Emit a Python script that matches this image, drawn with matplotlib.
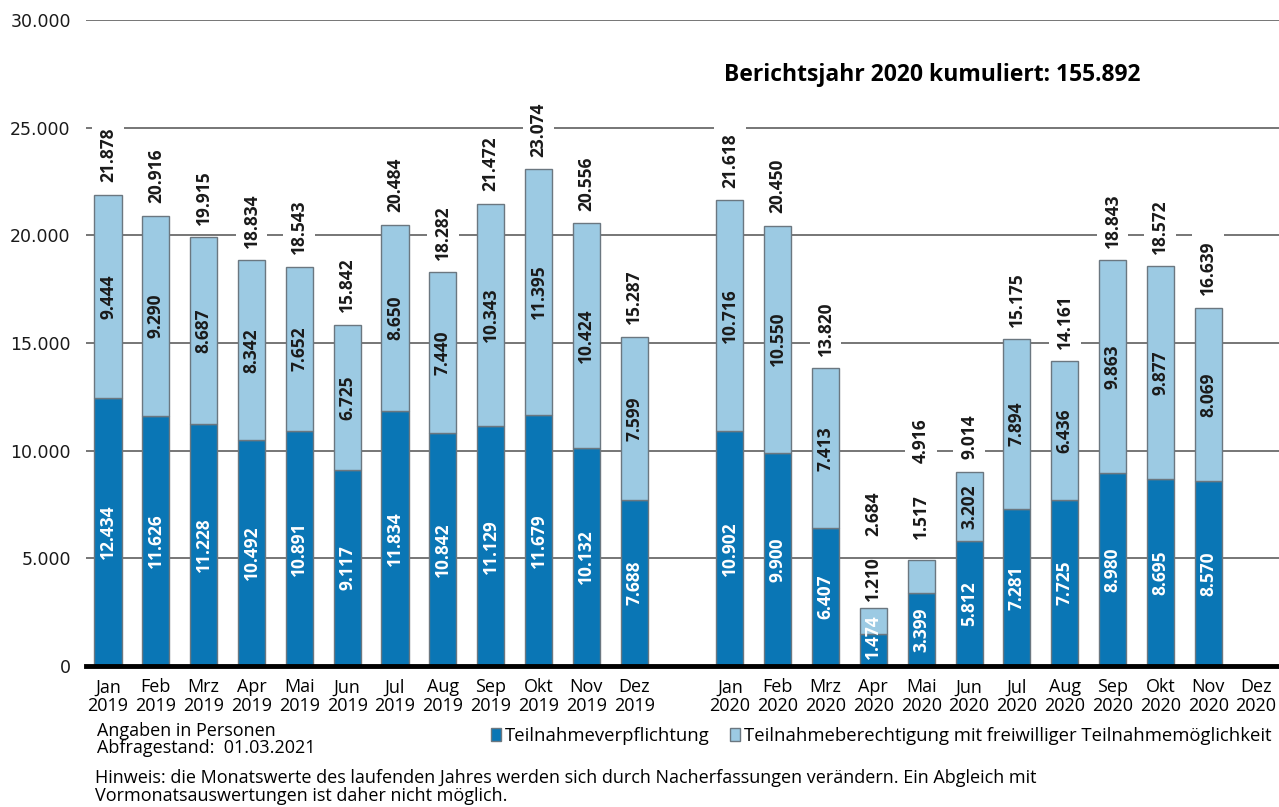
import numpy as np
import matplotlib.pyplot as plt
from matplotlib.patches import Patch

months = ["Jan", "Feb", "Mrz", "Apr", "Mai", "Jun", "Jul", "Aug", "Sep", "Okt", "Nov", "Dez"]
years = ["2019", "2020"]

# Teilnahmeverpflichtung
pflicht_2019 = [12434, 11626, 11228, 10492, 10891, 9117, 11834, 10842, 11129, 11679, 10132, 7688]
pflicht_2020 = [10902, 9900, 6407, 1474, 3399, 5812, 7281, 7725, 8980, 8695, 8570]
# Teilnahmeberechtigung mit freiwilliger Teilnahmemoeglichkeit
freiw_2019 = [9444, 9290, 8687, 8342, 7652, 6725, 8650, 7440, 10343, 11395, 10424, 7599]
freiw_2020 = [10716, 10550, 7413, 1210, 1517, 3202, 7894, 6436, 9863, 9877, 8069]

dark = "#0a76b5"
light = "#9ccae3"
edge = "#6b7780"
foot_font = "Open Sans"


def fmt(v):
    return f"{int(v):,}".replace(",", ".")


fig = plt.figure(figsize=(12.79, 8.07), dpi=100)
ax = fig.add_axes([86 / 1279, 1 - 666 / 807, 1 - 86 / 1279, 646 / 807])

x = np.concatenate([np.arange(12), np.arange(13, 13 + len(pflicht_2020))])
p = np.array(pflicht_2019 + pflicht_2020)
f = np.array(freiw_2019 + freiw_2020)
total = p + f

w = 0.565
ax.bar(x, p, w, color=dark, edgecolor=edge, linewidth=1, zorder=3)
ax.bar(x, f, w, bottom=p, color=light, edgecolor=edge, linewidth=1, zorder=3)

# hand placed offsets (points) for the small bars where the light value sits above the bar
small_offsets = {15: (5, 52), 16: (15, 70)}

lab = dict(rotation=90, fontsize=12.5, fontweight="bold", family="Open Sans", zorder=5)
for i in range(len(x)):
    ydark = p[i] / 2 if p[i] > 2000 else total[i] / 2
    ax.text(x[i], ydark, fmt(p[i]), color="white", ha="center", va="center", **lab)
    box = dict(facecolor="white", edgecolor="none", pad=5)
    if i in small_offsets:
        off_l, off_t = small_offsets[i]
        ax.annotate(fmt(f[i]), (x[i], total[i]), xytext=(0, off_l), textcoords="offset points",
                    ha="center", va="bottom", color="#1a1a1a", **lab)
        ax.annotate(fmt(total[i]), (x[i], total[i]), xytext=(0, off_t), textcoords="offset points",
                    ha="center", va="bottom", color="#1a1a1a", bbox=box, **lab)
    else:
        ax.text(x[i], p[i] + f[i] / 2, fmt(f[i]), color="#1a1a1a", ha="center", va="center", **lab)
        ax.annotate(fmt(total[i]), (x[i], total[i]), xytext=(0, 9), textcoords="offset points",
                    ha="center", va="bottom", color="#1a1a1a", bbox=box, **lab)

ax.set_xlim(-0.46, 24.48)
ax.set_ylim(0, 30000)
ax.set_yticks(np.arange(0, 30001, 5000))
ax.set_yticklabels([fmt(v) for v in np.arange(0, 30001, 5000)], family="DejaVu Sans",
                   fontsize=12.5, color="#1a1a1a")
ax.tick_params(axis="y", length=0, pad=11)

xt = list(np.arange(12)) + list(np.arange(13, 25))
xl = [m + "\n" + years[0] for m in months] + [m + "\n" + years[1] for m in months]
ax.set_xticks(xt)
ax.set_xticklabels(xl, family=foot_font, fontsize=13, linespacing=1.05)
ax.tick_params(axis="x", length=0, pad=9)

for s in ax.spines.values():
    s.set_visible(False)
ax.yaxis.grid(True, color="#5f5f5f", linewidth=1.2, zorder=0)
ax.set_axisbelow(True)
ax.axhline(0, color="black", linewidth=3.5, zorder=4, clip_on=False)

fig.text(724 / 1279, 1 - 75 / 807, f"Berichtsjahr 2020 kumuliert: {fmt(sum(pflicht_2020) + sum(freiw_2020))}",
         family=foot_font, fontweight="bold", fontsize=16.5, ha="left", va="center")

handles = [Patch(facecolor=dark, edgecolor=edge), Patch(facecolor=light, edgecolor=edge)]
fig.legend(handles, ["Teilnahmeverpflichtung", "Teilnahmeberechtigung mit freiwilliger Teilnahmemöglichkeit"],
           loc="center right", bbox_to_anchor=(1.007, 1 - 736 / 807), ncol=2, frameon=False,
           handlelength=0.55, handleheight=0.75, handletextpad=0.2, columnspacing=1.1,
           prop=dict(family=foot_font, size=13.3))

fig.text(97 / 1279, 1 - 731 / 807, "Angaben in Personen", family=foot_font, fontsize=13, va="center")
fig.text(97 / 1279, 1 - 748 / 807, "Abfragestand:  01.03.2021", family=foot_font, fontsize=13, va="center")
fig.text(95 / 1279, 1 - 778 / 807,
         "Hinweis: die Monatswerte des laufenden Jahres werden sich durch Nacherfassungen verändern. Ein Abgleich mit",
         family=foot_font, fontsize=13, va="center")
fig.text(95 / 1279, 1 - 796 / 807, "Vormonatsauswertungen ist daher nicht möglich.",
         family=foot_font, fontsize=13, va="center")

fig.savefig("out.png", dpi=100)
